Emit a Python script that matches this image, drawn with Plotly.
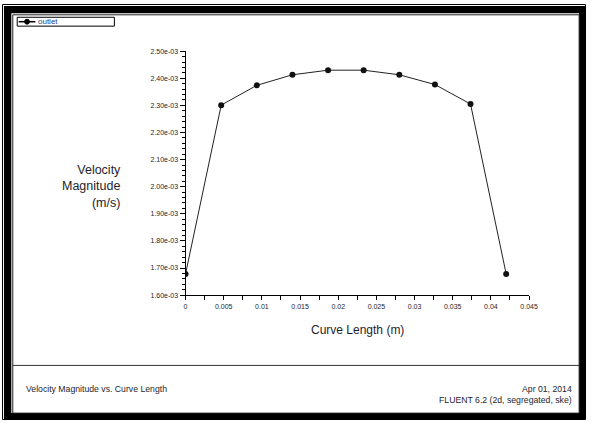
import plotly.graph_objects as go

# ---- data ----
curve_length = [0.0, 0.00467, 0.00933, 0.0140, 0.01867, 0.02333, 0.0280, 0.03267, 0.03733, 0.0420]
velocity = [1.678e-3, 2.301e-3, 2.374e-3, 2.413e-3, 2.430e-3, 2.430e-3, 2.413e-3, 2.377e-3, 2.305e-3, 1.678e-3]
series_name = "outlet"

y_tick_vals = [1.60e-3, 1.70e-3, 1.80e-3, 1.90e-3, 2.00e-3, 2.10e-3, 2.20e-3, 2.30e-3, 2.40e-3, 2.50e-3]
y_tick_text = ["1.60e-03", "1.70e-03", "1.80e-03", "1.90e-03", "2.00e-03",
               "2.10e-03", "2.20e-03", "2.30e-03", "2.40e-03", "2.50e-03"]
x_tick_vals = [0, 0.005, 0.01, 0.015, 0.02, 0.025, 0.03, 0.035, 0.04, 0.045]
x_tick_text = ["0", "0.005", "0.01", "0.015", "0.02", "0.025", "0.03", "0.035", "0.04", "0.045"]

W, H = 595, 423
FONT = "Liberation Sans, Arial, sans-serif"
TXT = "#1e1e2e"


def px(x):
    return x / W


def py(y):
    return 1 - y / H


fig = go.Figure()
fig.add_trace(go.Scatter(
    x=curve_length, y=velocity, mode="lines+markers", name=series_name,
    line=dict(color="#222222", width=1),
    marker=dict(color="#111111", size=6, symbol="circle"),
    showlegend=False,
))

shapes = []
# outer thin frame
shapes.append(dict(type="rect", xref="paper", yref="paper",
                   x0=px(0.5), x1=px(594.5), y0=py(422.5), y1=py(0.5),
                   line=dict(color="black", width=1), fillcolor="rgba(0,0,0,0)"))
# thick black bands (left, top, right, bottom)
for (x0, y0, x1, y1) in [(2, 2, 9.5, 422), (2, 2, 594, 9.5), (588, 2, 594, 422), (2, 416, 594, 422)]:
    shapes.append(dict(type="rect", xref="paper", yref="paper",
                       x0=px(x0), x1=px(x1), y0=py(y1), y1=py(y0),
                       line=dict(width=0), fillcolor="black"))
# inner thin line
shapes.append(dict(type="rect", xref="paper", yref="paper",
                   x0=px(11), x1=px(588), y0=py(416), y1=py(11),
                   line=dict(color="#222222", width=1), fillcolor="rgba(0,0,0,0)"))
# divider above footer
shapes.append(dict(type="line", xref="paper", yref="paper",
                   x0=px(11), x1=px(588), y0=py(367.5), y1=py(367.5),
                   line=dict(color="#333333", width=1)))
# legend box
shapes.append(dict(type="rect", xref="paper", yref="paper",
                   x0=px(15.5), x1=px(114.5), y0=py(22.5), y1=py(13.5),
                   line=dict(color="black", width=1), fillcolor="white"))
shapes.append(dict(type="line", xref="paper", yref="paper",
                   x0=px(17), x1=px(34), y0=py(18), y1=py(18),
                   line=dict(color="black", width=1.5)))
shapes.append(dict(type="circle", xref="paper", yref="paper",
                   x0=px(23), x1=px(28), y0=py(20.5), y1=py(15.5),
                   line=dict(color="black", width=1), fillcolor="black"))
fig.update_layout(shapes=shapes)

FOOT = 8.7
annotations = [
    dict(text=series_name, x=px(35), y=py(18), xanchor="left", yanchor="middle",
         font=dict(size=8, color="#2a3a8a", family=FONT)),
    dict(text="Velocity<br>Magnitude<br>(m/s)", x=px(123), y=py(186), xanchor="right",
         yanchor="middle", align="right", font=dict(size=12.5, color=TXT, family=FONT)),
    dict(text="Curve Length (m)", x=px(362), y=py(331), xanchor="center", yanchor="middle",
         font=dict(size=12, color=TXT, family=FONT)),
    dict(text="Velocity Magnitude vs. Curve Length", x=px(22), y=py(391), xanchor="left",
         yanchor="middle", font=dict(size=FOOT, color=TXT, family=FONT)),
    dict(text="Apr 01, 2014", x=px(583), y=py(391), xanchor="right", yanchor="middle",
         font=dict(size=FOOT, color=TXT, family=FONT)),
    dict(text="FLUENT 6.2 (2d, segregated, ske)", x=px(583), y=py(403), xanchor="right",
         yanchor="middle", font=dict(size=FOOT, color=TXT, family=FONT)),
]
for a in annotations:
    a.update(xref="paper", yref="paper", showarrow=False)
fig.update_layout(annotations=annotations)

fig.update_layout(
    width=W, height=H, autosize=False,
    margin=dict(l=0, r=0, t=0, b=0),
    paper_bgcolor="white", plot_bgcolor="white",
    showlegend=False,
    xaxis=dict(
        domain=[px(187), px(537)], range=[0, 0.045],
        tickvals=x_tick_vals, ticktext=x_tick_text,
        showline=True, linecolor="black", linewidth=1,
        ticks="outside", ticklen=4, tickcolor="black", tickwidth=1,
        minor=dict(dtick=0.0025, tick0=0, ticks="outside", ticklen=4, tickcolor="black"),
        showgrid=False, zeroline=False,
        tickfont=dict(size=7, color=TXT, family=FONT),
    ),
    yaxis=dict(
        domain=[py(296), py(48)], range=[1.6e-3, 2.5e-3],
        tickvals=y_tick_vals, ticktext=y_tick_text,
        showline=True, linecolor="black", linewidth=1,
        ticks="outside", ticklen=5, tickcolor="black", tickwidth=1,
        minor=dict(dtick=2e-5, tick0=1.6e-3, ticks="outside", ticklen=3, tickcolor="black"),
        showgrid=False, zeroline=False,
        tickfont=dict(size=7, color=TXT, family=FONT),
    ),
)

fig.write_html(
    "out.html",
    config={"displayModeBar": False},
    post_script=(
        "document.documentElement.style.overflow='hidden';"
        "document.body.style.margin='0';document.body.style.overflow='hidden';"
    ),
)
